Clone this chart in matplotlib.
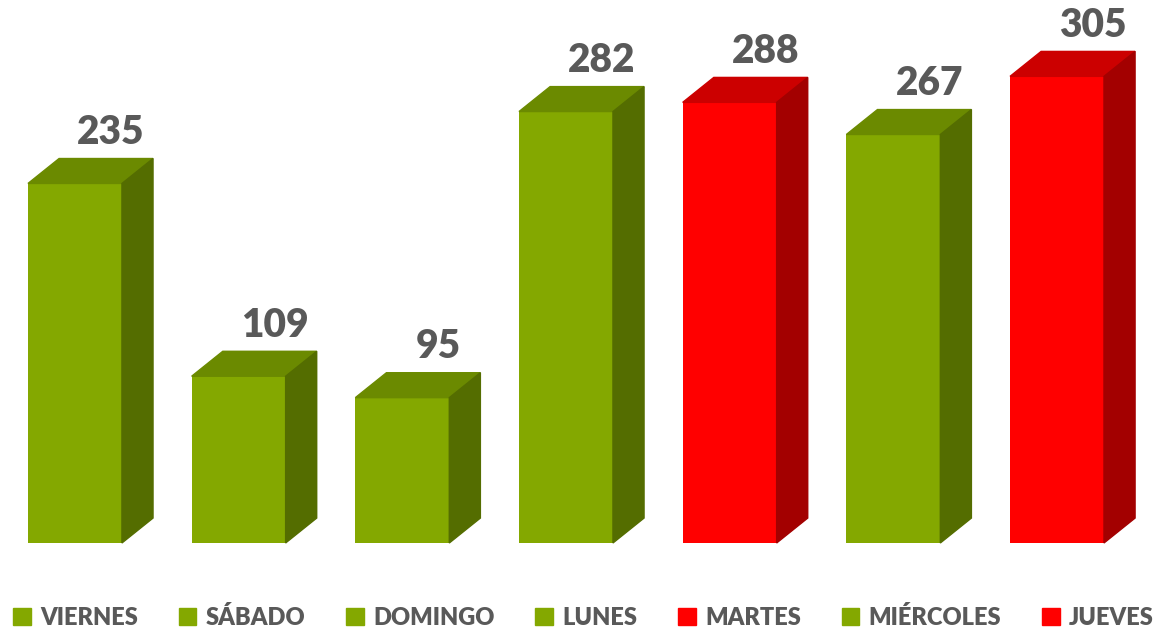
import matplotlib.pyplot as plt
from matplotlib.patches import Polygon, Patch

# data
days = ['VIERNES', 'SÁBADO', 'DOMINGO', 'LUNES', 'MARTES', 'MIÉRCOLES', 'JUEVES']
values = [235, 109, 95, 282, 288, 267, 305]
is_red = [False, False, False, False, True, False, True]

# front / top / side shades
green = ('#84A800', '#6B8A00', '#546D00')
red = ('#FF0000', '#CC0000', '#A30000')

plt.rcParams['font.family'] = ['Lato', 'DejaVu Sans']

fig = plt.figure(figsize=(11.67, 6.27), dpi=100)
ax = fig.add_axes([0, 0, 1, 1])
ax.set_xlim(-0.458, 6.672)
ax.set_ylim(-54.9, 354.9)
ax.axis('off')

width = 0.574
dx, dy = 0.19, 16.3

for i, (v, r) in enumerate(zip(values, is_red)):
    front, top, side = red if r else green
    x0, x1 = i - width / 2, i + width / 2
    ax.bar(i, v, width=width, color=front, zorder=2)
    ax.add_patch(Polygon([(x0, v), (x1, v), (x1 + dx, v + dy), (x0 + dx, v + dy)],
                         closed=True, color=top, zorder=2))
    ax.add_patch(Polygon([(x1, 0), (x1 + dx, dy), (x1 + dx, v + dy), (x1, v)],
                         closed=True, color=side, zorder=2))
    ax.text(i + dx + 0.03, v + dy + 5, str(v), ha='center', va='bottom',
            fontsize=28, fontweight='heavy', color='#595959')

handles = [Patch(color=(red if r else green)[0]) for r in is_red]
leg = fig.legend(handles, days, loc='lower center', bbox_to_anchor=(0.5, -0.01),
                 ncol=7, frameon=False, handlelength=0.75, handleheight=0.75,
                 handletextpad=0.4, columnspacing=1.72, borderaxespad=0, borderpad=0.2,
                 prop={'weight': 'heavy', 'size': 17})
for t in leg.get_texts():
    t.set_color('#595959')

fig.savefig('out.png', dpi=100)
